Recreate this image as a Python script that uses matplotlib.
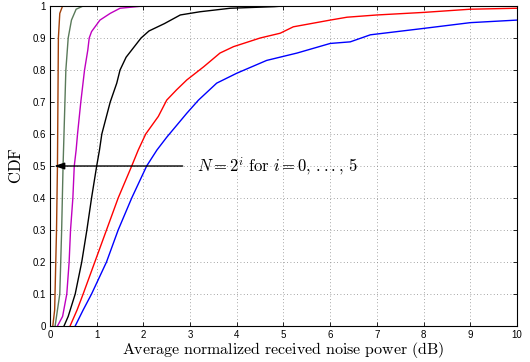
import matplotlib
matplotlib.use('Agg')
import matplotlib.pyplot as plt

plt.rcParams['mathtext.fontset'] = 'cm'
plt.rcParams['font.family'] = ['Liberation Sans', 'DejaVu Sans']

x_n1 = [0.54, 0.71, 0.89, 1.21, 1.46, 1.75, 2.07, 2.29, 2.5, 2.93, 3.18, 3.57, 4.0, 4.64, 5.29,
        6.0, 6.43, 6.86, 8.0, 9.0, 10.0]
y_n1 = [0, 0.05, 0.1, 0.2, 0.3, 0.4, 0.5, 0.55, 0.59, 0.665, 0.706, 0.759, 0.79, 0.83, 0.853,
        0.883, 0.888, 0.91, 0.93, 0.948, 0.956]

x_n2 = [0.43, 0.58, 0.71, 0.96, 1.21, 1.46, 1.75, 1.89, 2.05, 2.32, 2.5, 2.71, 2.93, 3.29, 3.64,
        3.93, 4.5, 4.93, 5.21, 6.0, 6.36, 7.0, 8.0, 9.0, 10.0]
y_n2 = [0, 0.05, 0.1, 0.2, 0.3, 0.4, 0.5, 0.55, 0.6, 0.655, 0.706, 0.738, 0.769, 0.81, 0.853,
        0.873, 0.9, 0.915, 0.935, 0.956, 0.965, 0.972, 0.98, 0.99, 0.993]

x_n4 = [0.3, 0.39, 0.54, 0.68, 0.79, 0.89, 1.0, 1.06, 1.11, 1.29, 1.43, 1.5, 1.63, 1.95, 2.12,
        2.45, 2.79, 3.21, 3.86, 4.8, 5.0]
y_n4 = [0, 0.03, 0.1, 0.2, 0.3, 0.4, 0.5, 0.55, 0.6, 0.7, 0.759, 0.8, 0.84, 0.9, 0.922,
        0.945, 0.972, 0.982, 0.993, 0.998, 1.0]

x_n8 = [0.16, 0.27, 0.36, 0.41, 0.44, 0.49, 0.52, 0.56, 0.59, 0.66, 0.74, 0.81, 0.84, 0.89,
        1.07, 1.29, 1.5, 2.0]
y_n8 = [0, 0.03, 0.1, 0.2, 0.3, 0.4, 0.5, 0.55, 0.6, 0.7, 0.8, 0.8625, 0.9, 0.92,
        0.956, 0.977, 0.993, 1.0]

x_n16 = [0.11, 0.21, 0.25, 0.28, 0.32, 0.34, 0.39, 0.46, 0.56, 0.71, 0.79]
y_n16 = [0, 0.1, 0.3, 0.5, 0.7, 0.8, 0.9, 0.956, 0.99, 1.0, 1.0]

x_n32 = [0.06, 0.1, 0.14, 0.16, 0.17, 0.18, 0.21, 0.27, 0.29]
y_n32 = [0, 0.05, 0.3, 0.5, 0.7, 0.9, 0.977, 1.0, 1.0]

xs = [x_n1, x_n2, x_n4, x_n8, x_n16, x_n32]
ys = [y_n1, y_n2, y_n4, y_n8, y_n16, y_n32]
colors = ['#0000ff', '#ff0000', '#000000', '#c000c0', '#5a7a5a', '#a0400a']

fig = plt.figure(figsize=(5.3, 3.62), dpi=100)
ax = fig.add_axes([0.0943, 0.0994, 0.8812, 0.884])

for x, y, c in zip(xs, ys, colors):
    ax.plot(x, y, color=c, lw=1.0)

ax.set_xlim(0, 10)
ax.set_ylim(0, 1)
ax.set_xticks(range(11))
ax.set_yticks([i / 10 for i in range(11)])
ax.set_yticklabels(['0'] + ['%.1f' % (i / 10) for i in range(1, 10)] + ['1'])
ax.tick_params(direction='in', top=True, right=True, labelsize=7, length=3, width=0.6, pad=3)
ax.grid(True, linestyle=(0, (1, 3)), color='#888888', lw=0.6)
for s in ax.spines.values():
    s.set_linewidth(0.8)

ax.annotate('', xy=(0.03, 0.5), xytext=(2.9, 0.5),
            arrowprops=dict(arrowstyle='-|>,head_length=0.6,head_width=0.2', color='k', lw=1.0))
ax.text(3.15, 0.5, r'$N = 2^i\ \mathrm{for}\ i = 0,\,\mathrm{...},\,5$', fontsize=12, va='center')

ax.set_xlabel(r'$\mathrm{Average\ normalized\ received\ noise\ power\ (dB)}$', fontsize=11.5, labelpad=0)
ax.set_ylabel(r'$\mathrm{CDF}$', fontsize=12, labelpad=6)

fig.savefig('out.png', dpi=100)
